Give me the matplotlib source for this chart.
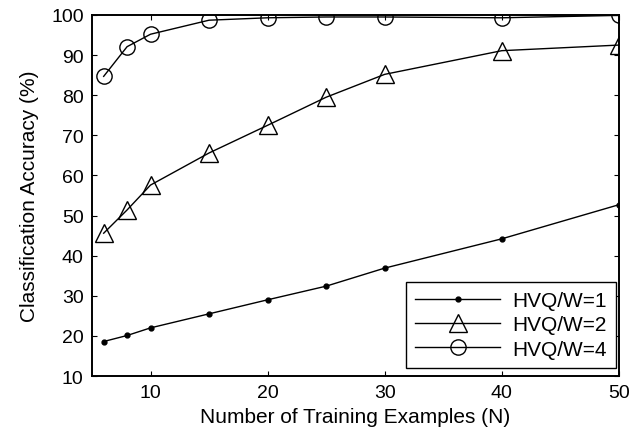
import matplotlib
matplotlib.use("Agg")
import matplotlib.pyplot as plt

plt.rcParams['font.family'] = ['Liberation Sans', 'DejaVu Sans']

n_examples = [6, 8, 10, 15, 20, 25, 30, 40, 50]
acc_w1 = [18.6, 20.1, 22.0, 25.5, 29.0, 32.4, 36.9, 44.2, 52.7]
acc_w2 = [45.6, 51.4, 57.6, 65.6, 72.5, 79.5, 85.2, 91.1, 92.5]
acc_w4 = [84.7, 92.1, 95.2, 98.7, 99.3, 99.5, 99.5, 99.3, 99.9]
labels = ["HVQ/W=1", "HVQ/W=2", "HVQ/W=4"]

fig = plt.figure(figsize=(6.4, 4.39), dpi=100)
ax = fig.add_axes([0.1437, 0.1412, 0.967 - 0.1437, 0.9636 - 0.1412])

ax.plot(n_examples, acc_w1, '-', color='black', lw=1.0, marker='o', markersize=3.5,
        markerfacecolor='black', label=labels[0])
ax.plot(n_examples, acc_w2, '-', color='black', lw=1.0, marker='^', markersize=12.5,
        markerfacecolor='none', markeredgewidth=1.0, label=labels[1])
ax.plot(n_examples, acc_w4, '-', color='black', lw=1.0, marker='o', markersize=11,
        markerfacecolor='none', markeredgewidth=1.0, label=labels[2])

ax.set_xlim(5, 50)
ax.set_ylim(10, 100)
ax.set_xticks([10, 20, 30, 40, 50])
ax.set_yticks(range(10, 101, 10))
ax.tick_params(direction='in', top=True, right=True, labelsize=14, length=3.5, width=0.8,
               pad=6)
for s in ax.spines.values():
    s.set_linewidth(1.4)
ax.set_xlabel("Number of Training Examples (N)", fontsize=15, labelpad=4)
ax.set_ylabel("Classification Accuracy (%)", fontsize=15, labelpad=9)

leg = ax.legend(loc='lower right', bbox_to_anchor=(0.994, 0.022), borderaxespad=0,
                fontsize=15, fancybox=False, edgecolor='black',
                framealpha=1, handlelength=4.1, labelspacing=0.25, borderpad=0.45,
                handletextpad=0.55)
leg.get_frame().set_linewidth(1.0)

fig.savefig("out.png", dpi=100)
